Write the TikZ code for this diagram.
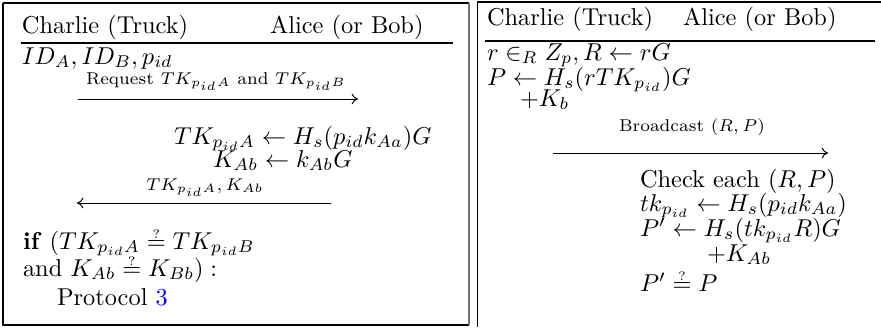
\documentclass[tikz,border=0pt]{standalone}
\usepackage{amsmath}
\usetikzlibrary{arrows.meta}
\newcommand\qeq{\mathrel{\vbox{\offinterlineskip\halign{\hfil##\hfil\cr$\scriptscriptstyle ?$\cr\noalign{\kern0.8pt}$=$\cr}}}}
\begin{document}
\begin{tikzpicture}[x=0.41pt,y=-0.41pt,
  txt/.style={anchor=base west,inner sep=0pt,outer sep=0pt},
  lbl/.style={anchor=base,inner sep=0pt,outer sep=0pt,font=\scriptsize},
  msg/.style={line width=0.4pt,-{To[length=2.6pt,width=4.4pt]}},
  hrule/.style={line width=0.45pt},
  frame/.style={line width=0.7pt}]
\useasboundingbox (0,0) rectangle (881,327);
% frames
\draw[frame] (3,3) -- (469,3);
\draw[frame] (3,3) -- (3,325) -- (469,325);
\draw[frame,black!55] (469,3) -- (469,325);
\draw[frame] (881,2) -- (477.5,2) -- (477.5,327);
% ---------- left panel ----------
\node[txt] (hL1) at (22,33) {Charlie (Truck)};
\node[txt] (hL2) at (270,33) {Alice (or Bob)};
\draw[hrule] (21,43) -- (453,43);
\node[txt] (l1) at (22,64) {$ID_A, ID_B, p_{id}$};
\coordinate (a1s) at (78,99);
\coordinate (a1e) at (358,99);
\node[lbl] (a1l) at (216,84) {Request $TK_{p_{id}A}$ and $TK_{p_{id}B}$};
\draw[msg] (a1s) -- (a1e);
\node[txt] (l2) at (174,144) {$TK_{p_{id}A} \leftarrow H_s(p_{id}k_{Aa})G$};
\node[txt] (l3) at (213,167) {$K_{Ab} \leftarrow k_{Ab}G$};
\coordinate (a2s) at (331,203);
\coordinate (a2e) at (77,203);
\node[lbl] (a2l) at (205,190) {$TK_{p_{id}A}, K_{Ab}$};
\draw[msg] (a2s) -- (a2e);
\node[txt] (l4) at (23,249) {\textbf{if} $(TK_{p_{id}A} \qeq TK_{p_{id}B}$};
\node[txt] (l5) at (23,276) {and $K_{Ab} \qeq K_{Bb}) :$};
\node[txt] (l6) at (57,305) {Protocol \textcolor{blue}{3}};
% ---------- right panel ----------
\node[txt] (hR1) at (487,26) {Charlie (Truck)};
\node[txt] (hR2) at (683,26) {Alice (or Bob)};
\draw[hrule] (485,41) -- (875,41);
\node[txt] (r1) at (487,60) {$r \in_R Z_p, R \leftarrow rG$};
\node[txt] (r2) at (487,85) {$P \leftarrow H_s(rTK_{p_{id}})G$};
\node[txt] (r3) at (520,106) {$+K_b$};
\coordinate (a3s) at (553,153);
\coordinate (a3e) at (828,153);
\node[lbl] (a3l) at (692,131) {Broadcast $(R,P)$};
\draw[msg] (a3s) -- (a3e);
\node[txt] (r4) at (640,187) {Check each $(R,P)$};
\node[txt] (r5) at (640,211) {$tk_{p_{id}} \leftarrow H_s(p_{id}k_{Aa})$};
\node[txt] (r6) at (640,236) {$P' \leftarrow H_s(tk_{p_{id}}R)G$};
\node[txt] (r7) at (707,261) {$+K_{Ab}$};
\node[txt] (r8) at (640,291) {$P' \qeq P$};
\end{tikzpicture}
\end{document}
